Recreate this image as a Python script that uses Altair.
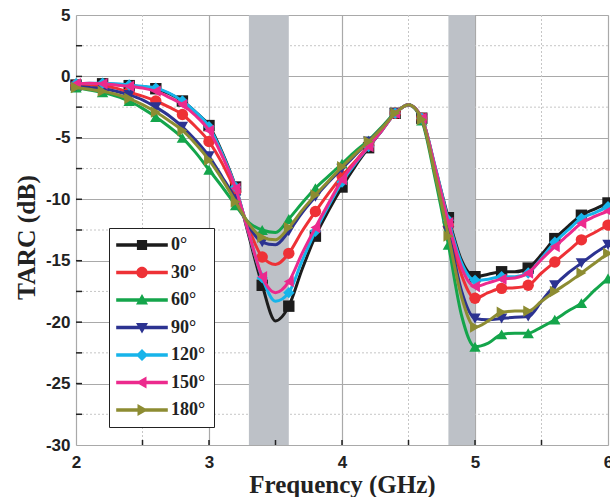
import altair as alt
import pandas as pd

# ---------------- data ----------------
freq = [2.0, 2.1, 2.2, 2.3, 2.4, 2.5, 2.6, 2.7, 2.8, 2.9,
        3.0, 3.1, 3.2, 3.3, 3.4, 3.5, 3.6, 3.7, 3.8, 3.9,
        4.0, 4.1, 4.2, 4.3, 4.4, 4.5, 4.6, 4.7, 4.8, 4.9,
        5.0, 5.1, 5.2, 5.3, 5.4, 5.5, 5.6, 5.7, 5.8, 5.9, 6.0]

tarc_0 = [-0.7, -0.65, -0.6, -0.65, -0.75, -0.85, -1.0, -1.4, -2.0, -2.9,
          -4.0, -6.2, -9.0, -13.0, -17.0, -19.9, -18.7, -15.7, -13.0, -10.9,
          -9.0, -7.3, -5.8, -4.4, -3.0, -2.3, -3.4, -7.4, -11.5, -15.0,
          -16.3, -16.1, -15.9, -15.9, -15.6, -14.5, -13.2, -12.2, -11.3, -10.8, -10.3]
tarc_30 = [-0.7, -0.7, -0.8, -0.95, -1.3, -1.6, -2.0, -2.5, -3.1, -4.1,
           -5.3, -7.1, -9.4, -12.4, -14.7, -15.3, -14.4, -12.6, -11.0, -9.5,
           -8.1, -6.9, -5.6, -4.3, -3.0, -2.3, -3.4, -7.5, -12.2, -16.2,
           -18.05, -17.6, -17.25, -17.2, -17.0, -16.0, -15.1, -14.2, -13.3, -12.7, -12.1]
tarc_60 = [-0.9, -1.1, -1.3, -1.6, -2.0, -2.6, -3.3, -4.1, -5.0, -6.2,
           -7.6, -9.0, -10.5, -11.9, -12.5, -12.7, -11.6, -10.3, -9.1, -8.1,
           -7.1, -6.1, -5.2, -4.1, -2.95, -2.3, -3.6, -8.3, -13.7, -19.5,
           -22.0, -21.7, -21.0, -20.9, -20.9, -20.4, -19.8, -19.1, -18.45, -17.4, -16.45]
tarc_90 = [-0.8, -0.9, -1.0, -1.2, -1.5, -1.9, -2.5, -3.2, -4.1, -5.2,
           -6.5, -8.2, -10.0, -12.2, -13.5, -13.7, -12.6, -11.1, -9.8, -8.6,
           -7.5, -6.4, -5.3, -4.2, -3.0, -2.3, -3.5, -7.8, -12.6, -17.5,
           -19.7, -19.8, -19.7, -19.6, -19.55, -18.3, -17.0, -16.0, -15.2, -14.4, -13.7]
tarc_120 = [-0.6, -0.55, -0.55, -0.6, -0.7, -0.8, -0.95, -1.35, -2.0, -2.9,
            -4.1, -6.3, -9.0, -12.8, -16.4, -18.3, -17.6, -15.0, -12.6, -10.5,
            -8.6, -7.1, -5.7, -4.4, -3.0, -2.3, -3.4, -7.3, -11.7, -15.2,
            -16.6, -16.5, -16.3, -16.3, -16.0, -14.8, -13.5, -12.5, -11.55, -11.1, -10.6]
tarc_150 = [-0.6, -0.55, -0.6, -0.7, -0.8, -0.95, -1.2, -1.7, -2.3, -3.2,
            -4.4, -6.5, -9.1, -12.8, -16.3, -17.6, -16.7, -14.4, -12.3, -10.3,
            -8.4, -7.0, -5.7, -4.4, -3.0, -2.3, -3.4, -7.4, -11.9, -15.6,
            -17.1, -16.8, -16.5, -16.4, -16.0, -14.9, -13.85, -12.9, -11.95, -11.4, -10.95]
tarc_180 = [-0.9, -1.05, -1.2, -1.45, -1.8, -2.3, -2.9, -3.6, -4.4, -5.5,
            -6.8, -8.4, -10.2, -12.0, -13.1, -13.3, -12.3, -10.9, -9.65, -8.5,
            -7.35, -6.3, -5.3, -4.2, -3.0, -2.3, -3.5, -8.0, -13.0, -18.0,
            -20.4, -19.9, -19.2, -19.1, -19.1, -18.3, -17.5, -16.8, -16.0, -15.2, -14.4]

series_values = [tarc_0, tarc_30, tarc_60, tarc_90, tarc_120, tarc_150, tarc_180]
labels = ["0°", "30°", "60°", "90°", "120°", "150°", "180°"]
colors = ["#1c1c1c", "#ee3136", "#14a54b", "#2c3391", "#17b4ea", "#ec2a8d", "#8d8c32"]
shapes = ["square", "circle", "triangle-up", "triangle-down", "diamond",
          "triangle-left", "triangle-right"]

band_start = [3.3, 4.8]
band_end = [3.6, 5.0]

x_ticks = [2, 3, 4, 5, 6]
y_ticks = [5, 0, -5, -10, -15, -20, -25, -30]
x_minor = [2.5, 3.5, 4.5, 5.5]
y_minor = [2.5, -2.5, -7.5, -12.5, -17.5, -22.5, -27.5]
x_inner_ticks = [2.5, 3.0, 3.5, 4.0, 4.5, 5.0, 5.5]
y_inner_ticks = [2.5, 0, -2.5, -5, -7.5, -10, -12.5, -15, -17.5, -20, -22.5, -25, -27.5]

# ---------------- layout ----------------
W, H = 532, 430
SANS = "Liberation Sans"
SERIF = "Liberation Serif"

rows = []
for lab, vals in zip(labels, series_values):
    for i, (f, v) in enumerate(zip(freq, vals)):
        rows.append({"freq": f, "tarc": v, "angle": lab, "mk": 1 if i % 2 == 0 else 0})
df = pd.DataFrame(rows)

xscale = alt.Scale(domain=[2, 6], nice=False, zero=False)
yscale = alt.Scale(domain=[-30, 5], nice=False, zero=False)

xaxis = alt.Axis(values=x_ticks, labelExpr="'' + datum.value", title="Frequency (GHz)",
                 grid=True, gridColor="#a9a9a9", gridWidth=1.2, ticks=False, domain=False,
                 labelFont=SANS, labelFontWeight="bold", labelFontSize=17, labelColor="#222222",
                 labelPadding=9, labelFlush=False,
                 titleFont=SERIF, titleFontSize=25, titleFontWeight="bold", titleColor="#222222",
                 titleY=39, titleBaseline="middle")
yaxis = alt.Axis(values=y_ticks, labelExpr="'' + datum.value", title="TARC (dB)",
                 grid=True, gridColor="#a9a9a9", gridWidth=1.2, ticks=False, domain=False,
                 labelFont=SANS, labelFontWeight="bold", labelFontSize=17, labelColor="#222222",
                 labelPadding=6, labelFlush=False,
                 titleFont=SERIF, titleFontSize=25.5, titleFontWeight="bold", titleColor="#222222",
                 titleX=-50, titleY=222, titleBaseline="middle", titleAlign="center", titleAngle=-90)

X = alt.X("freq:Q", scale=xscale, axis=xaxis)
Y = alt.Y("tarc:Q", scale=yscale, axis=yaxis)

minor_x = alt.Chart(pd.DataFrame({"freq": x_minor})).mark_rule(
    color="#c6c6c6", strokeDash=[2, 2], strokeWidth=1).encode(x=X)
minor_y = alt.Chart(pd.DataFrame({"tarc": y_minor})).mark_rule(
    color="#c6c6c6", strokeDash=[2, 2], strokeWidth=1).encode(y=Y)

bands = alt.Chart(pd.DataFrame({"freq": band_start, "fend": band_end})).mark_rect(
    color="#bdc1c7").encode(x=X, x2="fend:Q", y=alt.value(0), y2=alt.value(H))

layers = [minor_x, minor_y, bands]
for lab, col, shp in zip(labels, colors, shapes):
    base = alt.Chart(df).transform_filter(alt.datum.angle == lab)
    line = base.mark_line(color=col, strokeWidth=3, interpolate="monotone").encode(x=X, y=Y)
    pts = base.transform_filter(alt.datum.mk == 1).mark_point(
        shape=shp, filled=True, size=130, color=col, opacity=1).encode(x=X, y=Y)
    layers += [line, pts]

ticks_x = alt.Chart(pd.DataFrame({"freq": x_inner_ticks})).mark_rule(
    color="#222222", strokeWidth=1.5).encode(x=X, y=alt.value(H), y2=alt.value(H - 5))
ticks_y = alt.Chart(pd.DataFrame({"tarc": y_inner_ticks})).mark_rule(
    color="#222222", strokeWidth=1.5).encode(y=Y, x=alt.value(0), x2=alt.value(6))
layers += [ticks_x, ticks_y]

# legend symbols: a line with the marker on it
line_part = "M-4.3,-0.28H4.3V0.28H-4.3Z"
legend_paths = [
    line_part + "M-0.85,-0.85H0.85V0.85H-0.85Z",
    line_part + "M0.95,0A0.95,0.95 0 1,1 -0.95,0A0.95,0.95 0 1,1 0.95,0Z",
    line_part + "M0,-1L1,0.75L-1,0.75Z",
    line_part + "M-1,-0.75L1,-0.75L0,1Z",
    line_part + "M0,-1L1,0L0,1L-1,0Z",
    line_part + "M-1,0L0.75,-1L0.75,1Z",
    line_part + "M1,0L-0.75,1L-0.75,-1Z",
]
leg = alt.Legend(orient="none", legendX=33, legendY=213, title=None,
                 strokeColor="#222222", fillColor="white", padding=8,
                 symbolSize=144, symbolOffset=16, labelOffset=20, rowPadding=9.5,
                 labelFont=SERIF, labelFontSize=18, labelFontWeight="bold",
                 labelColor="#222222", symbolStrokeWidth=0)
legend_layer = alt.Chart(df).transform_filter("false").mark_point(
    filled=True, opacity=1, size=144).encode(
    x=X, y=Y,
    color=alt.Color("angle:N", scale=alt.Scale(domain=labels, range=colors), legend=leg),
    shape=alt.Shape("angle:N", scale=alt.Scale(domain=labels, range=legend_paths), legend=leg),
)
layers.append(legend_layer)

chart = alt.layer(*layers).properties(
    width=W, height=H,
    autosize=alt.AutoSizeParams(type="none"),
    padding={"left": 76, "top": 15, "right": 2, "bottom": 52},
).configure_view(stroke="#222222", strokeWidth=2).configure(background="white")

chart.save("out.html", embed_options={"renderer": "svg", "actions": False})
